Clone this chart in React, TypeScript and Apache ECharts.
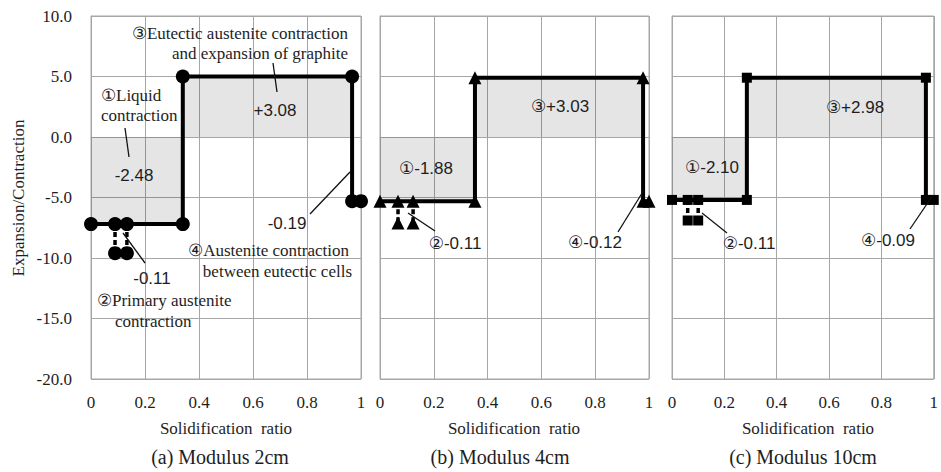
import React, { useEffect, useRef } from "react";
import * as echarts from "echarts";

// ---- axes ----
const xMin = 0, xMax = 1, xStep = 0.2;
const yMin = -20, yMax = 10, yStep = 5;

// ---- panel (a) Modulus 2cm ----
const aPathX = [0, 0.089, 0.133, 0.34, 0.34, 0.967, 0.967, 1.0];
const aPathY = [-7.2, -7.2, -7.2, -7.2, 5.0, 5.0, -5.3, -5.3];
const aDropX = [0.089, 0.133];
const aDropFrom = -7.2;
const aDropTo = -9.6;
const aShadeLiquid = [0, 0.34, -7.2];
const aShadeEutectic = [0.34, 0.967, 5.0];

// ---- panel (b) Modulus 4cm ----
const bPathX = [0, 0.067, 0.123, 0.353, 0.353, 0.978, 0.978, 1.0];
const bPathY = [-5.3, -5.3, -5.3, -5.3, 4.9, 4.9, -5.3, -5.3];
const bDropX = [0.067, 0.123];
const bDropFrom = -5.3;
const bDropTo = -7.1;
const bShadeLiquid = [0, 0.353, -5.3];
const bShadeEutectic = [0.353, 0.978, 4.9];

// ---- panel (c) Modulus 10cm ----
const cPathX = [0, 0.06, 0.1, 0.286, 0.286, 0.97, 0.97, 1.0];
const cPathY = [-5.2, -5.2, -5.2, -5.2, 4.9, 4.9, -5.2, -5.2];
const cDropX = [0.06, 0.1];
const cDropFrom = -5.2;
const cDropTo = -6.9;
const cShadeLiquid = [0, 0.286, -5.2];
const cShadeEutectic = [0.286, 0.97, 4.9];

const captions = ["(a) Modulus 2cm", "(b) Modulus 4cm", "(c) Modulus 10cm"];
const xTitle = "Solidification  ratio";
const yTitle = "Expansion/Contraction";

const SERIF = '"Liberation Serif", "DejaVu Serif", serif';
const SANS = '"Liberation Sans", "DejaVu Sans", sans-serif';
const INK = "#1e1e1e";
const GRIDC = "#a6a6a6";

function txt(text: string, x: number, y: number, size: number, family: string, align = "center", extra: any = {}) {
  return {
    type: "text",
    x,
    y,
    silent: true,
    z: 100,
    ...extra,
    style: {
      text,
      fill: INK,
      font: `${size}px ${family}`,
      fontSize: size,
      fontFamily: family,
      align,
      textAlign: align,
      verticalAlign: "middle",
      textVerticalAlign: "middle",
    },
  };
}

function leader(x1: number, y1: number, x2: number, y2: number) {
  return {
    type: "line",
    silent: true,
    z: 100,
    shape: { x1, y1, x2, y2 },
    style: { stroke: "#111", lineWidth: 1.3 },
  };
}

export default function App() {
  const ref = useRef<HTMLDivElement>(null);

  useEffect(() => {
    const chart = echarts.init(ref.current!, null, { renderer: "svg" });

    const grids = [
      { left: 91, top: 16, width: 270, height: 363 },
      { left: 380, top: 16, width: 269, height: 363 },
      { left: 672, top: 16, width: 269, height: 363 },
    ];

    const panels = [
      { px: aPathX, py: aPathY, dx: aDropX, d0: aDropFrom, d1: aDropTo, sl: aShadeLiquid, se: aShadeEutectic, sym: "circle", size: 14 },
      { px: bPathX, py: bPathY, dx: bDropX, d0: bDropFrom, d1: bDropTo, sl: bShadeLiquid, se: bShadeEutectic, sym: "triangle", size: 13 },
      { px: cPathX, py: cPathY, dx: cDropX, d0: cDropFrom, d1: cDropTo, sl: cShadeLiquid, se: cShadeEutectic, sym: "rect", size: 10 },
    ];

    const xAxes = grids.map((_, i) => ({
      type: "value",
      gridIndex: i,
      min: xMin,
      max: xMax,
      interval: xStep,
      axisLine: { show: true, lineStyle: { color: GRIDC, width: 1 } },
      axisTick: { show: false },
      axisLabel: {
        color: INK,
        fontFamily: SERIF,
        fontSize: 17,
        margin: 15,
        formatter: (v: number) => (v === 0 ? "0" : v === 1 ? "1" : v.toFixed(1)),
      },
      splitLine: { show: true, lineStyle: { color: GRIDC, width: 1 } },
    }));

    const yAxes = grids.map((_, i) => ({
      type: "value",
      gridIndex: i,
      min: yMin,
      max: yMax,
      interval: yStep,
      axisLine: { show: true, lineStyle: { color: GRIDC, width: 1 } },
      axisTick: { show: false },
      axisLabel: {
        show: i === 0,
        color: INK,
        fontFamily: SERIF,
        fontSize: 17,
        margin: 19,
        formatter: (v: number) => v.toFixed(1),
      },
      splitLine: { show: true, lineStyle: { color: GRIDC, width: 1 } },
    }));

    const series: any[] = [];
    panels.forEach((p, i) => {
      p.dx.forEach((x) => {
        series.push({
          type: "line",
          xAxisIndex: i,
          yAxisIndex: i,
          data: [
            { value: [x, p.d0], symbol: "none" },
            { value: [x, p.d1] },
          ],
          symbol: p.sym,
          symbolSize: p.size,
          showAllSymbol: true,
          lineStyle: { color: "#000", width: 3.5, type: [5, 3] },
          itemStyle: { color: "#000" },
          z: 3,
          silent: true,
        });
      });
      series.push({
        type: "line",
        xAxisIndex: i,
        yAxisIndex: i,
        data: p.px.map((x, k) => [x, p.py[k]]),
        symbol: p.sym,
        symbolSize: p.size,
        showAllSymbol: true,
        lineStyle: { color: "#000", width: 4 },
        itemStyle: { color: "#000" },
        z: 4,
        silent: true,
        markArea: {
          silent: true,
          itemStyle: { color: "rgba(0,0,0,0.10)" },
          data: [
            [{ xAxis: p.sl[0], yAxis: 0 }, { xAxis: p.sl[1], yAxis: p.sl[2] }],
            [{ xAxis: p.se[0], yAxis: 0 }, { xAxis: p.se[1], yAxis: p.se[2] }],
          ],
        },
      });
    });

    const titleCenters = [226, 514, 808];
    const captionCenters = [220, 500, 803];

    const graphic: any[] = [
      txt(yTitle, 18, 198, 17, SERIF, "center", { rotation: Math.PI / 2 }),
      ...titleCenters.map((cx) => txt(xTitle, cx, 428, 17, SERIF)),
      ...captions.map((c, i) => txt(c, captionCenters[i], 457, 20, SERIF)),

      // panel a
      txt("③Eutectic austenite contraction", 348, 33, 17, SERIF, "right"),
      txt("and expansion of graphite", 348, 53, 17, SERIF, "right"),
      leader(273, 63, 277, 92),
      txt("+3.08", 275, 110, 17, SANS),
      txt("①Liquid", 101, 95, 17, SERIF, "left"),
      txt("contraction", 101, 115, 17, SERIF, "left"),
      leader(125, 128, 129, 157),
      txt("-2.48", 134, 175, 17, SANS),
      txt("-0.19", 287, 223, 17, SANS),
      leader(310, 214, 350, 172),
      txt("④Austenite contraction", 349, 250, 17, SERIF, "right"),
      txt("between eutectic cells", 352, 271, 17, SERIF, "right"),
      leader(123, 233, 145, 263),
      txt("-0.11", 152, 278, 17, SANS),
      txt("②Primary austenite", 97, 300, 17, SERIF, "left"),
      txt("contraction", 115, 321, 17, SERIF, "left"),

      // panel b
      txt("③+3.03", 560, 106, 17, SANS),
      txt("①-1.88", 426, 168, 17, SANS),
      leader(408, 213, 435, 231),
      txt("②-0.11", 455, 243, 17, SANS),
      leader(618, 232, 644, 190),
      txt("④-0.12", 595, 242, 17, SANS),

      // panel c
      txt("③+2.98", 855, 107, 17, SANS),
      txt("①-2.10", 712, 167, 17, SANS),
      leader(702, 213, 727, 233),
      txt("②-0.11", 749, 243, 17, SANS),
      leader(910, 229, 933, 195),
      txt("④-0.09", 888, 240, 17, SANS),
    ];

    chart.setOption({
      animation: false,
      backgroundColor: "#ffffff",
      grid: grids.map((g) => ({ ...g, show: true, borderColor: GRIDC, borderWidth: 1, backgroundColor: "transparent" })),
      xAxis: xAxes,
      yAxis: yAxes,
      series,
      graphic,
    });

    return () => chart.dispose();
  }, []);

  return (
    <div
      ref={ref}
      style={{ position: "fixed", left: 0, top: 0, width: 941, height: 472, background: "#fff" }}
    />
  );
}
